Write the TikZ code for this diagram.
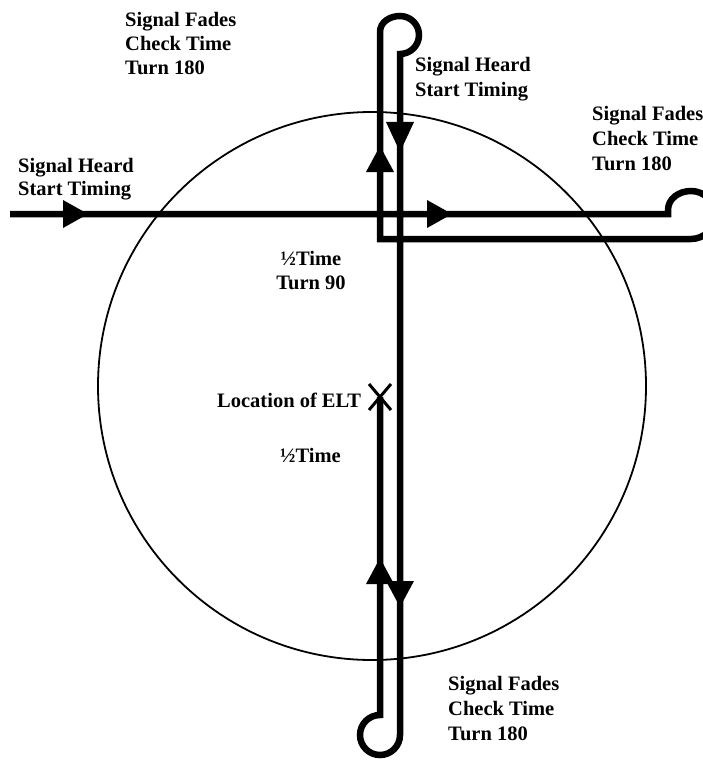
\documentclass[tikz,border=0pt]{standalone}
\usepackage{fontspec}
\setmainfont{Liberation Serif}
\begin{document}
\begin{tikzpicture}[x=1pt,y=1pt,
  track/.style={line width=6.5pt,line join=miter},
  ring/.style={line width=1.8pt},
  head/.style={fill=black},
  cross/.style={line width=3pt},
  lbl/.style={anchor=base west,inner sep=0pt,font=\bfseries\fontsize{20.5}{24}\selectfont},
  clbl/.style={anchor=base,inner sep=0pt,font=\bfseries\fontsize{20.5}{24}\selectfont}]
\useasboundingbox (0,0) rectangle (703,-765);
% circle
\coordinate (c) at (372,-386);
\draw[ring] (c) circle[radius=274];
% track coordinates
\coordinate (start) at (10,-214);
\coordinate (rin) at (668,-214);
\coordinate (rtop) at (691,-191);
\coordinate (corner) at (380,-239);
\coordinate (tin) at (380,-32);
\coordinate (ttop) at (400,-16);
\coordinate (bin) at (400,-735);
\coordinate (elt) at (380,-397);
\draw[track] (start) -- (rin) -- ++(0,4) to[out=90,in=180] (rtop)
  arc[start angle=90,end angle=-90,radius=24] -- (corner) -- (tin)
  to[out=90,in=180] (ttop) arc[start angle=90,end angle=-90,radius=19]
  -- (bin) arc[start angle=0,end angle=-270,radius=20] -- (elt);
% arrowheads
\coordinate (a1) at (88,-214);
\coordinate (a2) at (452,-214);
\coordinate (a3) at (380,-146);
\coordinate (a4) at (400,-152);
\coordinate (a5) at (400,-607);
\coordinate (a6) at (380,-558);
\fill[head] (a1) -- ++(-25,14) -- ++(0,-28) -- cycle;
\fill[head] (a2) -- ++(-25,14) -- ++(0,-28) -- cycle;
\fill[head] (a3) -- ++(-14,-26) -- ++(28,0) -- cycle;
\fill[head] (a4) -- ++(-14,30) -- ++(28,0) -- cycle;
\fill[head] (a5) -- ++(-14,26) -- ++(28,0) -- cycle;
\fill[head] (a6) -- ++(-14,-26) -- ++(28,0) -- cycle;
% ELT cross
\draw[cross] (elt) ++(-11,13) -- ++(22,-26);
\draw[cross] (elt) ++(11,13) -- ++(-22,-26);
% labels
\node[lbl] (tl1) at (125,-27) {Signal Fades};
\node[lbl] (tl2) at (125,-51) {Check Time};
\node[lbl] (tl3) at (125,-75) {Turn 180};
\node[lbl] (tr1) at (415,-72) {Signal Heard};
\node[lbl] (tr2) at (415,-97) {Start Timing};
\node[lbl] (r1) at (592,-121) {Signal Fades};
\node[lbl] (r2) at (592,-145) {Check Time};
\node[lbl] (r3) at (592,-170) {Turn 180};
\node[lbl] (l1) at (18,-172) {Signal Heard};
\node[lbl] (l2) at (18,-195) {Start Timing};
\node[clbl] (m1) at (311,-265) {½Time};
\node[clbl] (m2) at (311,-289) {Turn 90};
\node[lbl] (e1) at (217,-407) {Location of ELT};
\node[lbl] (e2) at (280,-462) {½Time};
\node[lbl] (b1) at (448,-690) {Signal Fades};
\node[lbl] (b2) at (448,-715) {Check Time};
\node[lbl] (b3) at (448,-740) {Turn 180};
\end{tikzpicture}
\end{document}
